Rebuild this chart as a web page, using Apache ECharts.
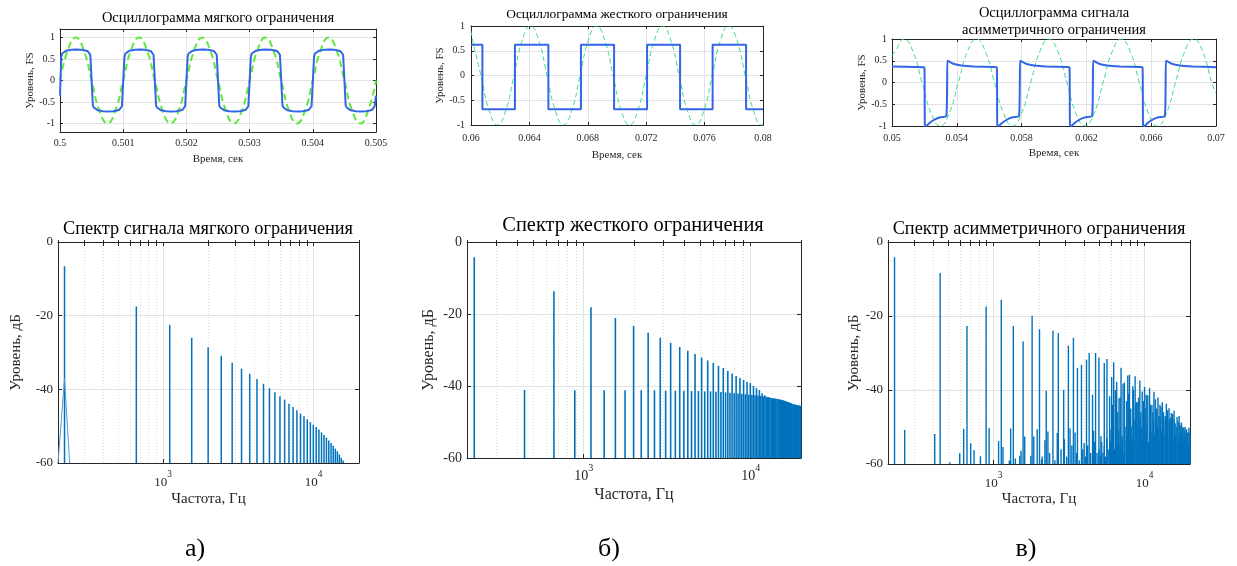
<!DOCTYPE html>
<html><head><meta charset="utf-8">
<script src="https://cdn.jsdelivr.net/npm/echarts@6/dist/echarts.min.js"></script>
<style>html,body{margin:0;padding:0;background:#fff}#c{width:1237px;height:566px}</style>
</head><body><div id="c"></div>
<script>
// ---------------- DATA ----------------
// (a) soft clipping oscillogram
const SOFT_SINE_T = [0.5,0.500125,0.50025,0.500375,0.5005,0.500625,0.50075,0.500875,
 0.501,0.501125,0.50125,0.501375,0.5015,0.501625,0.50175,0.501875,
 0.502,0.502125,0.50225,0.502375,0.5025,0.502625,0.50275,0.502875,
 0.503,0.503125,0.50325,0.503375,0.5035,0.503625,0.50375,0.503875,
 0.504,0.504125,0.50425,0.504375,0.5045,0.504625,0.50475,0.504875,0.505];
const SOFT_SINE_V = [0,0.71,1,0.71,0,-0.71,-1,-0.71, 0,0.71,1,0.71,0,-0.71,-1,-0.71,
 0,0.71,1,0.71,0,-0.71,-1,-0.71, 0,0.71,1,0.71,0,-0.71,-1,-0.71, 0,0.71,1,0.71,0,-0.71,-1,-0.71, 0];
const SOFT_CLIP_T = [0.5,
 0.50002,0.500035,0.50006,0.5001,0.50018,0.50026,0.50034,0.5004,0.50044,0.500465,0.50048,
 0.50052,0.500535,0.50056,0.5006,0.50068,0.50076,0.50084,0.5009,0.50094,0.500965,0.50098,
 0.50102,0.501035,0.50106,0.5011,0.50118,0.50126,0.50134,0.5014,0.50144,0.501465,0.50148,
 0.50152,0.501535,0.50156,0.5016,0.50168,0.50176,0.50184,0.5019,0.50194,0.501965,0.50198,
 0.50202,0.502035,0.50206,0.5021,0.50218,0.50226,0.50234,0.5024,0.50244,0.502465,0.50248,
 0.50252,0.502535,0.50256,0.5026,0.50268,0.50276,0.50284,0.5029,0.50294,0.502965,0.50298,
 0.50302,0.503035,0.50306,0.5031,0.50318,0.50326,0.50334,0.5034,0.50344,0.503465,0.50348,
 0.50352,0.503535,0.50356,0.5036,0.50368,0.50376,0.50384,0.5039,0.50394,0.503965,0.50398,
 0.50402,0.504035,0.50406,0.5041,0.50418,0.50426,0.50434,0.5044,0.50444,0.504465,0.50448,
 0.50452,0.504535,0.50456,0.5046,0.50468,0.50476,0.50484,0.5049,0.50494,0.504965,0.50498,
 0.505];
const SOFT_CLIP_V = [-0.35,
 0.56,0.63,0.67,0.695,0.715,0.72,0.715,0.7,0.68,0.65,0.6, -0.58,-0.63,-0.67,-0.695,-0.715,-0.72,-0.715,-0.7,-0.68,-0.65,-0.6,
 0.56,0.63,0.67,0.695,0.715,0.72,0.715,0.7,0.68,0.65,0.6, -0.58,-0.63,-0.67,-0.695,-0.715,-0.72,-0.715,-0.7,-0.68,-0.65,-0.6,
 0.56,0.63,0.67,0.695,0.715,0.72,0.715,0.7,0.68,0.65,0.6, -0.58,-0.63,-0.67,-0.695,-0.715,-0.72,-0.715,-0.7,-0.68,-0.65,-0.6,
 0.56,0.63,0.67,0.695,0.715,0.72,0.715,0.7,0.68,0.65,0.6, -0.58,-0.63,-0.67,-0.695,-0.715,-0.72,-0.715,-0.7,-0.68,-0.65,-0.6,
 0.56,0.63,0.67,0.695,0.715,0.72,0.715,0.7,0.68,0.65,0.6, -0.58,-0.63,-0.67,-0.695,-0.715,-0.72,-0.715,-0.7,-0.68,-0.65,-0.6,
 -0.35];

// (b) hard clipping oscillogram
const HARD_SINE_T = [0.06,0.060115,0.060681,0.061247,0.061813,0.062378,0.062944,0.063509,
 0.064075,0.064641,0.065206,0.065772,0.066338,0.066903,0.067469,0.068034,
 0.0686,0.069166,0.069731,0.070297,0.070863,0.071428,0.071994,0.072559,
 0.073125,0.073691,0.074256,0.074822,0.075388,0.075953,0.076519,0.077084,
 0.07765,0.078216,0.078781,0.079347,0.079913,0.08];
const HARD_SINE_V = [0.9,0.707,0,-0.707,-1,-0.707,0,0.707,
 1,0.707,0,-0.707,-1,-0.707,0,0.707,
 1,0.707,0,-0.707,-1,-0.707,0,0.707,
 1,0.707,0,-0.707,-1,-0.707,0,0.707,
 1,0.707,0,-0.707,-1,-0.99];
const HARD_CLIP_T = [0.06,0.06078,0.06078,0.06301,0.06301,0.0653,0.0653,0.06753,0.06753,0.0698,
 0.0698,0.07206,0.07206,0.07432,0.07432,0.07655,0.07655,0.07884,0.07884,0.08];
const HARD_CLIP_V = [0.62,0.62,-0.68,-0.68,0.62,0.62,-0.68,-0.68,0.62,0.62,
 -0.68,-0.68,0.62,0.62,-0.68,-0.68,0.62,0.62,-0.68,-0.68];

// (c) asymmetric clipping oscillogram
const ASYM_SINE_T = [0.05,0.050181,0.05074,0.051299,0.051858,0.052416,0.052975,0.053534,
 0.054093,0.054651,0.05521,0.055769,0.056328,0.056886,0.057445,0.058004,
 0.058563,0.059121,0.05968,0.060239,0.060798,0.061356,0.061915,0.062474,
 0.063033,0.063591,0.06415,0.064709,0.065268,0.065826,0.066385,0.066944,
 0.067503,0.068061,0.06862,0.069179,0.069738,0.07];
const ASYM_SINE_V = [0.62,0.707,1,0.707,0,-0.707,-1,-0.707,
 0,0.707,1,0.707,0,-0.707,-1,-0.707,
 0,0.707,1,0.707,0,-0.707,-1,-0.707,
 0,0.707,1,0.707,0,-0.707,-1,-0.707,
 0,0.707,1,0.707,0,-0.25];
const ASYM_CLIP_T = [0.05,0.0515,
 0.051998,0.052028,0.0521,0.05235,0.05268,0.05299,0.05336,0.05342,0.05348,0.05378,0.05428,0.05508,0.05628,
 0.056468,0.056498,0.05657,0.05682,0.05715,0.05746,0.057846,0.057906,0.057966,0.058266,0.058766,0.059566,0.060766,
 0.060955,0.060985,0.061057,0.061307,0.061637,0.061947,0.062357,0.062417,0.062477,0.062777,0.063277,0.064077,0.065277,
 0.065465,0.065495,0.065567,0.065817,0.066147,0.066457,0.066847,0.066907,0.066967,0.067267,0.067767,0.068567,
 0.07];
const ASYM_CLIP_V = [0.37,0.355,
 0.35,-0.97,-1,-0.92,-0.84,-0.8,-0.77,0.5,0.49,0.43,0.39,0.37,0.355,
 0.35,-0.97,-1,-0.92,-0.84,-0.8,-0.77,0.5,0.49,0.43,0.39,0.37,0.355,
 0.35,-0.97,-1,-0.92,-0.84,-0.8,-0.77,0.5,0.49,0.43,0.39,0.37,0.355,
 0.35,-0.97,-1,-0.92,-0.84,-0.8,-0.77,0.5,0.49,0.43,0.39,0.37,
 0.35];

// spectra
const SOFT_HZ = [221,663,1105,1547,1989,2431,2873,3315,3757,4199,4641,5083,5525,5967,6409,6851,7293,7735,
 8177,8619,9061,9503,9945,10387,10829,11271,11713,12155,12597,13039,13481,13923,14365,14807,15249,15691];
const SOFT_DB = [-6.6,-17.5,-22.5,-26.0,-28.6,-30.9,-32.8,-34.4,-35.8,-37.2,-38.5,-39.7,-40.8,-41.9,-42.8,-43.9,-44.8,-45.7,
 -46.6,-47.3,-48.1,-48.9,-49.6,-50.2,-50.9,-51.7,-52.4,-53.1,-53.9,-54.6,-55.3,-56.1,-56.8,-57.7,-58.6,-59.3];
const SOFT_LEAK_HZ = [200,221,239];
const SOFT_LEAK_DB = [-60,-37,-60];

const HARD_HZ = [221,442,663,884,1105,1326,1547,1768,1989,2210,2431,2652,2873,3094,3315,3536,3757,3978,4199,4420,
 4641,4862,5083,5304,5525,5746,5967,6188,6409,6630,6851,7072,7293,7514,7735,7956,8177,8398,8619,8840,
 9061,9282,9503,9724,9945,10166,10387,10608,10829,11050,11271,11492,11713,11934,12155,12376,12597,12818,13039,13260,
 13481,13702,13923,14144,14365,14586,14807,15028,15249,15470,15691,15912,16133,16354,16575,16796,17017,17238,17459,17680,
 17901,18122,18343,18564,18785,19006,19227,19448,19669,19890];
const HARD_DB = [-4.2,-41.1,-13.7,-41.2,-18.1,-41.2,-21.1,-41.2,-23.3,-41.2,-25.2,-41.2,-26.6,-41.3,-28.0,-41.3,-29.2,-41.3,-30.2,-41.4,
 -31.1,-41.4,-32.1,-41.5,-32.9,-41.5,-33.6,-41.6,-34.4,-41.7,-35.0,-41.8,-35.8,-41.9,-36.5,-42.0,-37.2,-42.1,-37.8,-42.2,
 -38.3,-42.3,-38.9,-42.4,-39.2,-42.5,-40.0,-42.6,-40.6,-42.7,-41.1,-42.8,-42.0,-42.9,-42.6,-43.0,-43.1,-43.1,-43.2,-43.3,
 -43.4,-43.4,-43.5,-43.5,-43.6,-43.7,-43.7,-43.8,-43.8,-43.9,-44.0,-44.1,-44.2,-44.3,-44.4,-44.5,-44.6,-44.7,-44.8,-44.9,
 -45.0,-45.1,-45.2,-45.2,-45.3,-45.3,-45.4,-45.4,-45.5,-45.5];

const ASYM_HZ = [221,258,408,443,514,597,634,667,706,743,819,893,935,1080,1125,1154,1272,1298,1352,1395,
 1491,1521,1570,1609,1765,1801,1848,1945,2015,2078,2188,2233,2291,2474,2643,2685,2913,2944,3130,3211,
 3380,3467,3594,3822,3981,4127,4299,4525,4594,4738,4986,5142,5412,5639,5873,5995,6057,6247,6540,6778,
 6988,7098,7207,7743,7943,8150,8359,8665,8844,9028,9309,9502,9648,10000,10259,10798,11193,11540,12268,12652,
 13115,13945,14528,15058,15688,16429,16940,17556,18197,18957,19652,19950];
const ASYM_DB = [-4.1,-50.8,-51.9,-8.4,-59.5,-57.1,-50.5,-22.7,-54.4,-56.2,-57.9,-17.4,-50.3,-53.8,-15.6,-55.4,-59.1,-50.4,-22.7,-58.5,
 -57.8,-56.4,-26.9,-52.6,-57.8,-19.9,-52.6,-50.6,-23.6,-58.8,-53.6,-40.2,-51.2,-24.0,-51.6,-24.6,-40.0,-53.3,-28.0,-50.4,
 -25.9,-51.5,-34.0,-33.2,-54.3,-31.8,-30.0,-41.3,-51.0,-30.0,-31.3,-52.5,-32.7,-31.6,-41.7,-50.7,-36.5,-32.5,-37.8,-42.2,
 -34.0,-52.4,-38.3,-36.1,-35.9,-49.8,-39.0,-36.3,-43.3,-43.3,-37.4,-50.7,-40.4,-39.2,-41.3,-39.5,-44.0,-40.5,-42.0,-44.0,
 -43.3,-43.7,-44.9,-46.2,-45.6,-47.3,-47.0,-48.8,-50.1,-50.6,-50.2,-51.4];
const ASYM_MID_HZ = [6150,6400,6650,6900,7350,7600,7850,8100,8450,8750,9150,9450,9850,10100,10500,10950,
 11350,11800,12050,12450,12850,13350,13700,14200,14800,15350,15950,16650,17200,17850,18550,19300];
const ASYM_MID_DB = [-44,-40,-46,-42,-38,-43,-41,-45,-40,-44,-42,-46,-43,-45,-41.5,-44,
 -46,-42.5,-45,-47,-44.5,-46,-48,-45.5,-47.5,-46.5,-49,-48.5,-49.5,-50.5,-50,-51.5];
const ASYM_FILL_HZ = [2100,2350,2550,2800,3050,3300,3550,3700,3900,4050,4200,4400,4650,4850,
 5000,5100,5200,5305,5410,5520,5630,5740,5855,5970,6090,6210,6335,6460,6590,6720,6855,6990,7130,7275,
 7420,7570,7720,7875,8030,8190,8355,8520,8690,8865,9040,9220,9405,9595,9785,9980,10180,10385,10590,10800,
 11020,11240,11465,11695,11925,12165,12410,12655,12910,13165,13430,13700,13970,14250,14535,14825,15125,15425,15735,16050,
 16370,16695,17030,17370,17720,18075,18435,18800,19180,19560,19950];
const ASYM_FILL_DB = [-58,-57,-59,-56,-58,-55,-57,-59,-56,-58,-55,-57,-54,-57,
 -56,-58,-54,-57,-55,-58,-53,-56,-57,-54,-58,-52,-56,-55,-57,-51,-55,-56,-53,-57,
 -50,-54,-52,-56,-49,-53,-55,-48,-54,-51,-55,-48,-53,-50,-54,-47,-52,-49,-54,-47,
 -51,-53,-48,-52,-46,-50,-53,-47,-51,-48,-52,-47,-50,-53,-48,-51,-49,-53,-48,-52,
 -50,-54,-49,-52,-50,-54,-51,-53,-52,-55,-53];

// axis ticks
const TL_XTICKS = [0.5,0.501,0.502,0.503,0.504,0.505];
const TM_XTICKS = [0.06,0.064,0.068,0.072,0.076,0.08];
const TR_XTICKS = [0.05,0.054,0.058,0.062,0.066,0.07];
const FS_YTICKS = [-1,-0.5,0,0.5,1];
const DB_YTICKS = [-60,-40,-20,0];
const LOG_MAJOR = [1000,10000];
const LOG_MINOR = [200,300,400,500,600,700,800,900,2000,3000,4000,5000,6000,7000,8000,9000,20000];

// ---------------- CHART ----------------
const FONT = 'Liberation Serif';
const INK = '#262626';
const GRID_C = '#e2e2e2';
const BAR_C = '#0072BD';
const BLUE = '#3366e6';

const grids = [], xAxes = [], yAxes = [], series = [];
const fmtNum = v => String(parseFloat(Number(v).toFixed(6)));
const zip = (a, b) => a.map((v, i) => [v, b[i]]);
const frameAxis = (base, extra) => Object.assign({}, base, extra);

function addPanel(p) {
  const g = grids.length;
  grids.push({left: p.left, top: p.top, width: p.width, height: p.height});
  const isLog = p.xlog;
  const xbase = {gridIndex: g, type: isLog ? 'log' : 'value', min: p.xmin, max: p.xmax};
  if (isLog) xbase.logBase = 10;
  const xi = xAxes.length;
  xAxes.push(frameAxis(xbase, {
    position: 'bottom',
    axisLine: {show: true, onZero: false, lineStyle: {color: INK, width: 1}},
    axisTick: {show: true, inside: true, length: p.tickLen, customValues: isLog ? LOG_MAJOR : p.xticks, lineStyle: {color: INK}},
    axisLabel: isLog ? {
      customValues: LOG_MAJOR, margin: p.xlm,
      formatter: v => '{b|10}{s|' + Math.round(Math.log10(v)) + '}',
      rich: {b: {fontFamily: FONT, fontSize: p.tfs, color: INK, lineHeight: 26},
             s: {fontFamily: FONT, fontSize: p.tfs * 0.72, color: INK, lineHeight: 10, verticalAlign: 'top'}}
    } : {customValues: p.xticks, formatter: fmtNum, color: INK, fontFamily: FONT, fontSize: p.tfs, margin: p.xlm},
    splitLine: {show: true, lineStyle: {color: GRID_C, width: 1}},
    name: p.xname, nameLocation: 'middle', nameGap: p.xng,
    nameTextStyle: {fontFamily: FONT, fontSize: p.nfs, color: INK}
  }));
  if (isLog) {
    xAxes.push(frameAxis(xbase, {
      position: 'bottom', axisLine: {show: false},
      axisTick: {show: true, inside: true, length: 2, customValues: LOG_MINOR, lineStyle: {color: INK}},
      axisLabel: {show: false},
      splitLine: {show: true, lineStyle: {color: '#dcdcdc', width: 1, type: [1, 2]}}
    }));
  }
  xAxes.push(frameAxis(xbase, {
    position: 'top',
    axisLine: {show: true, onZero: false, lineStyle: {color: INK, width: 1}},
    axisTick: {show: true, inside: true, length: p.tickLen, customValues: isLog ? LOG_MAJOR.concat(LOG_MINOR) : p.xticks, lineStyle: {color: INK}},
    axisLabel: {show: false}, splitLine: {show: false}
  }));
  const ybase = {gridIndex: g, type: 'value', min: p.ymin, max: p.ymax};
  const yi = yAxes.length;
  yAxes.push(frameAxis(ybase, {
    position: 'left',
    axisLine: {show: true, onZero: false, lineStyle: {color: INK, width: 1}},
    axisTick: {show: true, inside: true, length: p.tickLen, customValues: p.yticks, lineStyle: {color: INK}},
    axisLabel: {customValues: p.yticks, formatter: fmtNum, color: INK, fontFamily: FONT, fontSize: p.tfs, margin: p.ylm},
    splitLine: {show: true, lineStyle: {color: GRID_C, width: 1}},
    name: p.yname, nameLocation: 'middle', nameGap: p.yng,
    nameTextStyle: {fontFamily: FONT, fontSize: p.nfs, color: INK}
  }));
  yAxes.push(frameAxis(ybase, {
    position: 'right',
    axisLine: {show: true, onZero: false, lineStyle: {color: INK, width: 1}},
    axisTick: {show: true, inside: true, length: p.tickLen, customValues: p.yticks, lineStyle: {color: INK}},
    axisLabel: {show: false}, splitLine: {show: false}
  }));
  return {xi, yi};
}

function lineSeries(ax, data, color, width, dash, smooth) {
  return {type: 'line', xAxisIndex: ax.xi, yAxisIndex: ax.yi, data, showSymbol: false, symbol: 'none',
    smooth: smooth, lineStyle: {color, width, type: dash || 'solid'}, silent: true, z: dash ? 3 : 4};
}
function stemSeries(ax, hz, db, width, color) {
  return {type: 'custom', xAxisIndex: ax.xi, yAxisIndex: ax.yi, data: zip(hz, db), silent: true, z: 3,
    renderItem: (params, api) => {
      const f = api.value(0), v = api.value(1);
      const top = api.coord([f, v]);
      const bot = api.coord([f, -60]);
      return {type: 'line', shape: {x1: bot[0], y1: bot[1], x2: top[0], y2: top[1]},
        style: {stroke: color || BAR_C, lineWidth: width}};
    }};
}

const topCommon = {tfs: 10, nfs: 11, tickLen: 3, xname: 'Время, сек', yname: 'Уровень, FS', ymin: -1, ymax: 1, yticks: FS_YTICKS};
const botCommon = {tfs: 13, nfs: 15, tickLen: 4, xlog: true, xmin: 200, xmax: 20000, xname: 'Частота, Гц', yname: 'Уровень, дБ', ymin: -60, ymax: 0, yticks: DB_YTICKS};

const A1 = addPanel(Object.assign({}, topCommon, {left: 60, top: 29, width: 316, height: 103, xmin: 0.5, xmax: 0.505, xticks: TL_XTICKS, ymin: -1.2, ymax: 1.2, xlm: 6, xng: 22, ylm: 5, yng: 24}));
const A2 = addPanel(Object.assign({}, topCommon, {left: 471, top: 26, width: 292, height: 99, xmin: 0.06, xmax: 0.08, xticks: TM_XTICKS, xlm: 8, xng: 25, ylm: 6, yng: 24}));
const A3 = addPanel(Object.assign({}, topCommon, {left: 892, top: 39, width: 324, height: 87, xmin: 0.05, xmax: 0.07, xticks: TR_XTICKS, xlm: 7, xng: 22, ylm: 5, yng: 23}));
const B1 = addPanel(Object.assign({}, botCommon, {left: 58, top: 242, width: 301, height: 221, xlm: 7, xng: 29, ylm: 5, yng: 34}));
const B2 = addPanel(Object.assign({}, botCommon, {left: 467, top: 242, width: 334, height: 216, tfs: 14, nfs: 16, xlm: 5, xng: 29, ylm: 5, yng: 30}));
const B3 = addPanel(Object.assign({}, botCommon, {left: 888, top: 242, width: 302, height: 222, xlm: 7, xng: 28, ylm: 5, yng: 26}));

series.push(lineSeries(A1, zip(SOFT_SINE_T, SOFT_SINE_V), '#5fe83a', 2, [7, 4], 0.5));
series.push(lineSeries(A1, zip(SOFT_CLIP_T, SOFT_CLIP_V), BLUE, 2, null, false));
series.push(lineSeries(A2, zip(HARD_SINE_T, HARD_SINE_V), '#3ddc84', 1, [5, 3], 0.5));
series.push(lineSeries(A2, zip(HARD_CLIP_T, HARD_CLIP_V), BLUE, 2, null, false));
series.push(lineSeries(A3, zip(ASYM_SINE_T, ASYM_SINE_V), '#3ddc84', 1, [5, 3], 0.5));
series.push(lineSeries(A3, zip(ASYM_CLIP_T, ASYM_CLIP_V), BLUE, 2, null, 0.2));

series.push(lineSeries(B1, zip(SOFT_LEAK_HZ, SOFT_LEAK_DB), '#4f9ad6', 1, null, false));
series.push(stemSeries(B1, SOFT_HZ, SOFT_DB, 1.5));
series.push(stemSeries(B2, HARD_HZ, HARD_DB, 1.6));
series.push(stemSeries(B3, ASYM_FILL_HZ, ASYM_FILL_DB, 1.4));
series.push(stemSeries(B3, ASYM_MID_HZ, ASYM_MID_DB, 1.4));
series.push(stemSeries(B3, ASYM_HZ, ASYM_DB, 1.4));

const tStyle = size => ({fontFamily: FONT, fontSize: size, fontWeight: 'normal', color: '#000'});
const titles = [
  {text: 'Осциллограмма мягкого ограничения', left: 218, top: 11, size: 14.5},
  {text: 'Осциллограмма жесткого ограничения', left: 617, top: 8, size: 13.4},
  {text: 'Осциллограмма сигнала\nасимметричного ограничения', left: 1054, top: 4, size: 14.5, lh: 17.5},
  {text: 'Спектр сигнала мягкого ограничения', left: 208, top: 220, size: 18.3},
  {text: 'Спектр жесткого ограничения', left: 633, top: 216, size: 20.4},
  {text: 'Спектр асимметричного ограничения', left: 1039, top: 220, size: 18.3},
  {text: 'а)', left: 195, top: 536, size: 26},
  {text: 'б)', left: 609, top: 536, size: 26},
  {text: 'в)', left: 1026, top: 536, size: 26}
].map(t => ({text: t.text, left: t.left, top: t.top, textAlign: 'center', padding: 0,
  textStyle: Object.assign(tStyle(t.size), t.lh ? {lineHeight: t.lh} : {})}));

const chart = echarts.init(document.getElementById('c'), null, {renderer: 'canvas'});
chart.setOption({
  animation: false, backgroundColor: '#fff',
  title: titles, grid: grids, xAxis: xAxes, yAxis: yAxes, series
});
</script></body></html>
